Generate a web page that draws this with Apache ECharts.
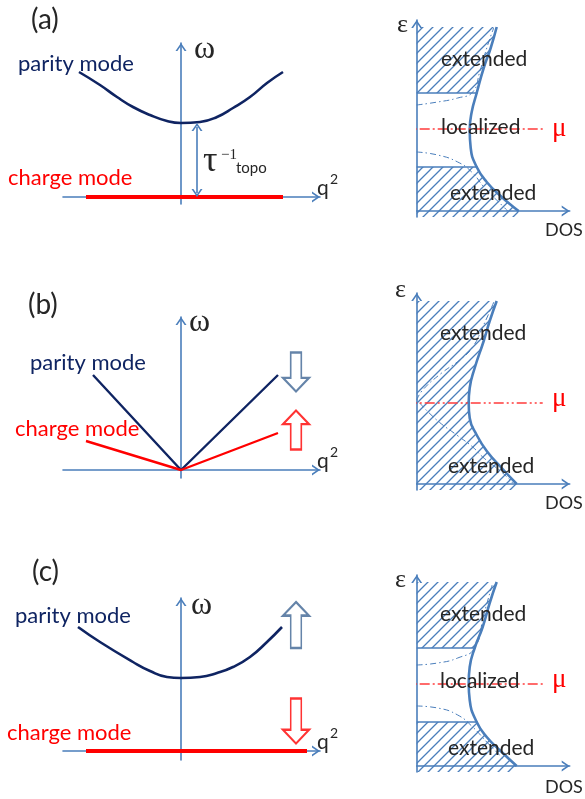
<!DOCTYPE html>
<html>
<head>
<meta charset="utf-8">
<script src="https://cdn.jsdelivr.net/npm/echarts@6/dist/echarts.min.js"></script>
<style>
  html, body { margin: 0; padding: 0; background: #fff; }
  #chart { width: 585px; height: 799px; }
</style>
</head>
<body>
<div id="chart"></div>
<script>
// ---------- dispersion panels (left column): points are [q, ω] ----------
const parityA = [[-1.02, 1.25], [-0.81, 1.12], [-0.64, 1.00], [-0.48, 0.90], [-0.31, 0.82], [-0.14, 0.76], [0, 0.74],
                 [0.19, 0.75], [0.36, 0.80], [0.52, 0.89], [0.69, 1.00], [0.86, 1.14], [1.02, 1.25]];
const chargeA = [[-0.95, 0], [1.02, 0]];
const gapA = 0.74; // τ⁻¹_topo, the parity-mode gap at q = 0
const gapArrowQ = 0.16;

const parityB = [[-0.88, 0.95], [0, 0], [0.97, 0.95]];
const chargeB = [[-0.95, 0.29], [0, 0], [0.97, 0.37]];

const parityC = [[-1.03, 1.24], [-0.81, 1.09], [-0.48, 0.89], [-0.31, 0.80], [-0.14, 0.74], [0, 0.73],
                 [0.19, 0.74], [0.36, 0.78], [0.52, 0.84], [0.69, 0.94], [0.86, 1.09], [1.01, 1.24]];
const chargeC = [[-0.95, 0], [1.26, 0]];

// ---------- density-of-states panels (right column): points are [DOS, ε] ----------
const dosA = [[0.80, 1.84], [0.74, 1.63], [0.67, 1.43], [0.60, 1.18], [0.55, 0.99], [0.53, 0.81], [0.54, 0.63],
              [0.60, 0.44], [0.70, 0.29], [0.85, 0.14], [0.98, 0.03], [1.02, 0]];
const edgesA = [1.18, 0.44];          // mobility edges
const muA = 0.82;                     // chemical potential
const extUpA = [[0, 1.06], [0.21, 1.09], [0.41, 1.13], [0.56, 1.19], [0.63, 1.39], [0.71, 1.66], [0.77, 1.83]];
const extLowA = [[0, 0.59], [0.21, 0.56], [0.41, 0.49], [0.55, 0.39], [0.68, 0.23], [0.85, 0.06], [0.91, 0]];

const dosB = [[0.80, 1.83], [0.73, 1.63], [0.67, 1.43], [0.58, 1.16], [0.53, 0.96], [0.52, 0.81], [0.53, 0.66],
              [0.60, 0.49], [0.70, 0.33], [0.85, 0.16], [1.00, 0]];
const muB = 0.81;
const extUpB = [[0, 0.84], [0.06, 0.94], [0.25, 1.11], [0.43, 1.24], [0.56, 1.37], [0.66, 1.57], [0.78, 1.84]];
const extLowB = [[0.03, 0.81], [0.20, 0.64], [0.40, 0.49], [0.56, 0.37], [0.66, 0.27], [0.86, 0.11], [0.96, 0.01]];

const dosC = [[0.80, 1.84], [0.73, 1.63], [0.66, 1.39], [0.58, 1.18], [0.53, 0.99], [0.52, 0.83], [0.53, 0.66],
              [0.60, 0.44], [0.70, 0.29], [0.85, 0.14], [1.00, 0]];
const edgesC = [1.18, 0.44];
const muC = 0.82;
const extUpC = [[0, 1.01], [0.21, 1.03], [0.41, 1.08], [0.58, 1.18], [0.67, 1.51], [0.76, 1.83]];
const extLowC = [[0, 0.60], [0.21, 0.58], [0.41, 0.51], [0.56, 0.39], [0.71, 0.23], [0.88, 0.06]];

// ---------- styling ----------
const AXIS = '#4a7ebb';
const NAVY = '#0f2462';
const RED = '#ff0000';
const INK = '#262626';
const SANS = 'Lato, "Open Sans", sans-serif';
const SERIF = '"Liberation Serif", "DejaVu Serif", serif';
const CHEVRON = 'path://M0,8 L5.5,0 L11,8 L9.1,8 L5.5,2.8 L1.9,8 Z';

// diagonal hatching used to shade the extended states
const hatch = (() => {
  const c = document.createElement('canvas');
  c.width = 10; c.height = 10;
  const g = c.getContext('2d');
  g.strokeStyle = AXIS; g.lineWidth = 1.3;
  g.beginPath();
  g.moveTo(-1, 11); g.lineTo(11, -1);
  g.moveTo(-1, 1); g.lineTo(1, -1);
  g.moveTo(9, 11); g.lineTo(11, 9);
  g.stroke();
  return { image: c, repeat: 'repeat' };
})();

function blockArrow(w, h, head, shaft, up) {
  const a = (w - shaft) / 2, b = (w + shaft) / 2;
  return up
    ? `path://M${w / 2},0 L${w},${head} L${b},${head} L${b},${h} L${a},${h} L${a},${head} L0,${head} Z`
    : `path://M${a},0 L${b},0 L${b},${h - head} L${w},${h - head} L${w / 2},${h} L0,${h - head} L${a},${h - head} Z`;
}

// ---------- layout ----------
const leftGrids = [
  { top: 43, height: 161, ymin: -0.07, ymax: 1.54 },
  { top: 317, height: 161, ymin: -0.08, ymax: 1.53 },
  { top: 598, height: 162, ymin: -0.09, ymax: 1.53 }
];
const rightTops = [20, 293, 575];

const grid = [], xAxis = [], yAxis = [];
function arrowAxis(gridIndex, min, max) {
  return {
    type: 'value', gridIndex, min, max,
    axisLine: { show: true, onZero: true, symbol: ['none', CHEVRON], symbolSize: [11, 8], symbolOffset: [0, -4],
                lineStyle: { color: AXIS, width: 1.6 } },
    axisTick: { show: false }, axisLabel: { show: false }, splitLine: { show: false }
  };
}
leftGrids.forEach((g, i) => {
  grid.push({ left: 63, top: g.top, width: 257, height: g.height });
  xAxis.push(arrowAxis(i * 2, -1.18, 1.39));
  yAxis.push(arrowAxis(i * 2, g.ymin, g.ymax));
  grid.push({ left: 416.7, top: rightTops[i], width: 153, height: 197 });
  xAxis.push(arrowAxis(i * 2 + 1, 0, 1.53));
  yAxis.push(arrowAxis(i * 2 + 1, -0.06, 1.91));
});

const series = [];
function line(idx, data, color, width, extra) {
  series.push(Object.assign({
    type: 'line', xAxisIndex: idx, yAxisIndex: idx, data, showSymbol: false, symbol: 'none',
    lineStyle: { color, width }, silent: true, z: 3
  }, extra || {}));
}
function arrowMark(idx, pos, path, size, color) {
  series.push({
    type: 'scatter', xAxisIndex: idx, yAxisIndex: idx, data: [pos], symbol: path, symbolSize: size,
    itemStyle: { color: '#fff', borderColor: color, borderWidth: 2 }, silent: true, z: 4
  });
}

// hatched region bounded by the ε axis and the DOS curve
const BOTTOM = -0.06;
function hatchRegion(idx, poly) {
  series.push({
    type: 'custom', xAxisIndex: idx, yAxisIndex: idx, data: [[0, 0]], silent: true, clip: false, z: 1,
    renderItem: (params, api) => ({
      type: 'polygon',
      shape: { points: poly.map(p => api.coord(p)) },
      style: { fill: hatch, stroke: null }
    })
  });
}
function above(curve, edge) {
  const pts = curve.filter(p => p[1] >= edge);
  return [[0, pts[0][1]], ...pts, [0, edge]];
}
function below(curve, edge) {
  const pts = curve.filter(p => p[1] <= edge);
  return [[0, edge], ...pts, [pts[pts.length - 1][0], BOTTOM], [0, BOTTOM]];
}
function dosAt(curve, e) { return curve.find(p => p[1] === e)[0]; }

function dosPanel(idx, curve, edges, mu, extUp, extLow, muDash) {
  if (edges) {
    hatchRegion(idx, above(curve, edges[0]));
    hatchRegion(idx, below(curve, edges[1]));
    edges.forEach(e => line(idx, [[0, e], [dosAt(curve, e) + 0.01, e]], AXIS, 1.6));
  } else {
    const last = curve[curve.length - 1];
    hatchRegion(idx, [[0, curve[0][1]], ...curve, [last[0], BOTTOM], [0, BOTTOM]]);
  }
  const dd = { color: AXIS, width: 1, type: [6, 3, 1.5, 3] };
  line(idx, extUp, AXIS, 1, { smooth: true, lineStyle: dd });
  line(idx, extLow, AXIS, 1, { smooth: true, lineStyle: dd });
  line(idx, curve, AXIS, 2.6, { smooth: true });
  line(idx, [[-0.15, mu], [1.26, mu]], '#ff3b3b', 1.4,
       { clip: false, z: 5, lineStyle: { color: '#ff3b3b', width: 1.4, type: muDash } });
}

// (a)
line(0, parityA, NAVY, 2.6, { smooth: true });
line(0, chargeA, RED, 4, {
  markLine: {
    silent: true, symbol: [CHEVRON, CHEVRON], symbolSize: [11, 8], label: { show: false },
    lineStyle: { color: AXIS, width: 1.6, type: 'solid' }, emphasis: { disabled: true },
    // endpoints sit half an arrowhead inside the gap so the tips land on ω = 0 and ω = gap
    data: [[{ coord: [gapArrowQ, 0.04] }, { coord: [gapArrowQ, gapA - 0.04] }]]
  }
});
dosPanel(1, dosA, edgesA, muA, extUpA, extLowA, [10, 3, 2, 3]);

// (b)
line(2, parityB, NAVY, 2.4);
line(2, chargeB, RED, 2.4);
arrowMark(2, [1.15, 0.98], blockArrow(27, 40, 14, 11, false), [26, 39], '#3e6594');
arrowMark(2, [1.15, 0.40], blockArrow(27, 40, 14, 11, true), [26, 39], RED);
dosPanel(3, dosB, null, muB, extUpB, extLowB, [10, 3, 2, 3, 2, 3]);

// (c)
line(4, parityC, NAVY, 2.6, { smooth: true });
line(4, chargeC, RED, 4);
arrowMark(4, [1.15, 1.26], blockArrow(27, 47, 14, 11, true), [26, 46], '#3e6594');
arrowMark(4, [1.15, 0.30], blockArrow(27, 46, 14, 11, false), [26, 45], RED);
dosPanel(5, dosC, edgesC, muC, extUpC, extLowC, [10, 3, 2, 3]);

// ---------- annotations ----------
const K_SANS = 0.34, K_SERIF = 0.24;
function txt(x, baseline, text, size, serif, fill) {
  const k = serif ? K_SERIF : K_SANS;
  return {
    type: 'text', x, y: baseline - k * size, silent: true, z: 10,
    style: { text, fontSize: size, fontFamily: serif ? SERIF : SANS, fill: fill || INK, align: 'left', verticalAlign: 'middle' }
  };
}
const graphic = [
  // (a)
  txt(31, 29.5, '(a)', 28), txt(194, 57, 'ω', 32, true),
  txt(18, 71.7, 'parity mode', 22, false, NAVY), txt(8, 185, 'charge mode', 22, false, RED),
  txt(317, 195, 'q', 21), txt(330, 184, '2', 14),
  txt(203, 170, 'τ', 36, true), txt(221, 159, '−1', 15, true), txt(236, 173, 'topo', 15),
  txt(397, 31, 'ε', 26, true),
  txt(441, 66.7, 'extended', 21), txt(441, 134, 'localized', 21), txt(450, 200, 'extended', 21),
  txt(552, 135, 'μ', 27, true, RED), txt(545, 236, 'DOS', 18),
  // (b)
  txt(28, 314.5, '(b)', 28), txt(189, 330, 'ω', 32, true),
  txt(30, 370, 'parity mode', 22, false, NAVY), txt(15, 436.7, 'charge mode', 22, false, RED),
  txt(317, 468, 'q', 21), txt(330, 457, '2', 14),
  txt(395, 296, 'ε', 26, true),
  txt(440, 340, 'extended', 21), txt(448, 473.3, 'extended', 21),
  txt(552, 405, 'μ', 27, true, RED), txt(545, 509, 'DOS', 18),
  // (c)
  txt(32, 581, '(c)', 28), txt(191, 613.5, 'ω', 32, true),
  txt(15, 623.3, 'parity mode', 22, false, NAVY), txt(7, 740, 'charge mode', 22, false, RED),
  txt(317, 749, 'q', 21), txt(330, 738, '2', 14),
  txt(395, 586, 'ε', 26, true),
  txt(440, 621.7, 'extended', 21), txt(440, 688.3, 'localized', 21), txt(448, 755, 'extended', 21),
  txt(552, 686, 'μ', 27, true, RED), txt(545, 793, 'DOS', 18)
];

const chart = echarts.init(document.getElementById('chart'), null, { renderer: 'canvas' });
chart.setOption({
  animation: false,
  backgroundColor: '#fff',
  grid, xAxis, yAxis, series, graphic
});
</script>
</body>
</html>
